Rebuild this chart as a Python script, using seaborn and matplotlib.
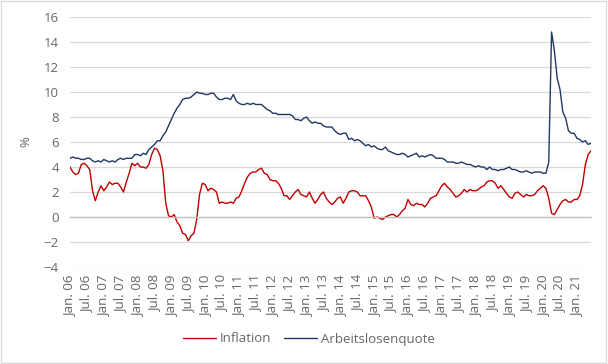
import numpy as np
import pandas as pd
import matplotlib
matplotlib.use("Agg")
import matplotlib.pyplot as plt
import seaborn as sns
from matplotlib.patches import Rectangle

# Monthly values, Jan 2006 - Jun 2021
inflation = [
    4.0, 3.6, 3.4, 3.5, 4.2, 4.3, 4.1, 3.8, 2.1, 1.3, 2.0, 2.5,
    2.1, 2.4, 2.8, 2.6, 2.7, 2.7, 2.4, 2.0, 2.8, 3.5, 4.3, 4.1,
    4.3, 4.0, 4.0, 3.9, 4.2, 5.0, 5.5, 5.4, 4.9, 3.7, 1.1, 0.1,
    0.0, 0.2, -0.4, -0.7, -1.3, -1.4, -1.9, -1.5, -1.3, -0.2, 1.8, 2.7,
    2.6, 2.1, 2.3, 2.2, 2.0, 1.1, 1.2, 1.1, 1.1, 1.2, 1.1, 1.5,
    1.6, 2.1, 2.7, 3.2, 3.5, 3.6, 3.6, 3.8, 3.9, 3.5, 3.4, 3.0,
    2.9, 2.9, 2.7, 2.3, 1.7, 1.7, 1.4, 1.7, 2.0, 2.2, 1.8, 1.7,
    1.6, 2.0, 1.5, 1.1, 1.4, 1.8, 2.0, 1.5, 1.2, 1.0, 1.2, 1.5,
    1.6, 1.1, 1.5, 2.0, 2.1, 2.1, 2.0, 1.7, 1.7, 1.7, 1.3, 0.8,
    -0.1, 0.0, -0.1, -0.2, 0.0, 0.1, 0.2, 0.2, 0.0, 0.2, 0.5, 0.7,
    1.4, 1.0, 0.9, 1.1, 1.0, 1.0, 0.8, 1.1, 1.5, 1.6, 1.7, 2.1,
    2.5, 2.7, 2.4, 2.2, 1.9, 1.6, 1.7, 1.9, 2.2, 2.0, 2.2, 2.1,
    2.1, 2.2, 2.4, 2.5, 2.8, 2.9, 2.9, 2.7, 2.3, 2.5, 2.2, 1.9,
    1.6, 1.5, 1.9, 2.0, 1.8, 1.6, 1.8, 1.7, 1.7, 1.8, 2.1, 2.3,
    2.5, 2.3, 1.5, 0.3, 0.2, 0.6, 1.0, 1.3, 1.4, 1.2, 1.2, 1.4,
    1.4, 1.7, 2.6, 4.2, 5.0, 5.3,
]
unemployment = [
    4.7, 4.8, 4.7, 4.7, 4.6, 4.6, 4.7, 4.7, 4.5, 4.4, 4.5, 4.4,
    4.6, 4.5, 4.4, 4.5, 4.4, 4.6, 4.7, 4.6, 4.7, 4.7, 4.7, 5.0,
    5.0, 4.9, 5.1, 5.0, 5.4, 5.6, 5.8, 6.1, 6.1, 6.5, 6.8, 7.3,
    7.8, 8.3, 8.7, 9.0, 9.4, 9.5, 9.5, 9.6, 9.8, 10.0, 9.9, 9.9,
    9.8, 9.8, 9.9, 9.9, 9.6, 9.4, 9.4, 9.5, 9.5, 9.4, 9.8, 9.3,
    9.1, 9.0, 9.0, 9.1, 9.0, 9.1, 9.0, 9.0, 9.0, 8.8, 8.6, 8.5,
    8.3, 8.3, 8.2, 8.2, 8.2, 8.2, 8.2, 8.1, 7.8, 7.8, 7.7, 7.9,
    8.0, 7.7, 7.5, 7.6, 7.5, 7.5, 7.3, 7.2, 7.2, 7.2, 6.9, 6.7,
    6.6, 6.7, 6.7, 6.2, 6.3, 6.1, 6.2, 6.1, 5.9, 5.7, 5.8, 5.6,
    5.7, 5.5, 5.4, 5.4, 5.6, 5.3, 5.2, 5.1, 5.0, 5.0, 5.1, 5.0,
    4.8, 4.9, 5.0, 5.1, 4.8, 4.9, 4.8, 4.9, 5.0, 4.9, 4.7, 4.7,
    4.7, 4.6, 4.4, 4.4, 4.4, 4.3, 4.3, 4.4, 4.3, 4.2, 4.2, 4.1,
    4.0, 4.1, 4.0, 4.0, 3.8, 4.0, 3.8, 3.8, 3.7, 3.8, 3.8, 3.9,
    4.0, 3.8, 3.8, 3.7, 3.6, 3.6, 3.7, 3.6, 3.5, 3.6, 3.6, 3.6,
    3.5, 3.5, 4.4, 14.8, 13.3, 11.1, 10.2, 8.4, 7.9, 6.9, 6.7, 6.7,
    6.3, 6.2, 6.0, 6.1, 5.8, 5.9,
]
months = pd.date_range("2006-01-01", periods=len(inflation), freq="MS")
month_names = {1: "Jan.", 7: "Jul."}
tick_labels = [f"{month_names[m.month]} {m.year % 100:02d}" for m in months if m.month in (1, 7)]

df = pd.DataFrame({
    "idx": np.arange(len(months)),
    "Inflation": inflation,
    "Arbeitslosenquote": unemployment,
})
long_df = df.melt(id_vars="idx", var_name="series", value_name="value")

sns.set_style("white")
plt.rcParams["font.family"] = ["Open Sans", "DejaVu Sans"]
grey = "#666666"

fig = plt.figure(figsize=(6.08, 3.64), dpi=100)
ax = fig.add_axes([70 / 608, 1 - 267 / 364, 521 / 608, 250 / 364])

sns.lineplot(data=long_df, x="idx", y="value", hue="series",
             palette={"Inflation": "#C00000", "Arbeitslosenquote": "#1F3864"},
             linewidth=1.0, ax=ax, legend=True)

ax.set_xlim(0, len(months) - 1)
ax.set_ylim(-4, 16)
ax.set_yticks(np.arange(-4, 17, 2))
ax.yaxis.grid(True, color="#D9D9D9", linewidth=0.9)
ax.set_axisbelow(True)
for s in ["top", "right", "left"]:
    ax.spines[s].set_visible(False)

# axis line with tick marks at y = 0
ax.spines["bottom"].set_position(("data", 0))
ax.spines["bottom"].set_color("#BFBFBF")
ax.spines["bottom"].set_linewidth(0.9)
tick_pos = list(range(0, len(months), 6))
ax.set_xticks(tick_pos)
ax.set_xticks([len(months) - 1], minor=True)
ax.tick_params(axis="x", which="both", direction="out", length=5, color="#BFBFBF",
               width=0.9, labelbottom=False)
ax.tick_params(axis="y", length=0, labelsize=9.5, labelcolor=grey, pad=8)
ax.set_xlabel("")
ax.set_ylabel("%", color=grey, fontsize=9.5, labelpad=8)

# tick labels at the bottom of the plot area
sec = ax.secondary_xaxis("bottom")
sec.set_xticks(tick_pos, tick_labels, rotation=90)
sec.tick_params(length=0, labelsize=9.5, labelcolor=grey, pad=6)
sec.spines["bottom"].set_visible(False)

handles, labels = ax.get_legend_handles_labels()
ax.get_legend().remove()
fig.legend(handles, labels, loc="center", bbox_to_anchor=(0.508, 1 - 339 / 364), ncol=2,
           frameon=False, fontsize=9.5, labelcolor=grey, handlelength=2.5,
           handletextpad=0.3, columnspacing=1.0)

fig.patches.append(Rectangle((0.002, 0.003), 0.994, 0.994, transform=fig.transFigure,
                             fill=False, edgecolor="#D9D9D9", linewidth=1.0))

fig.savefig("out.png", dpi=100)
